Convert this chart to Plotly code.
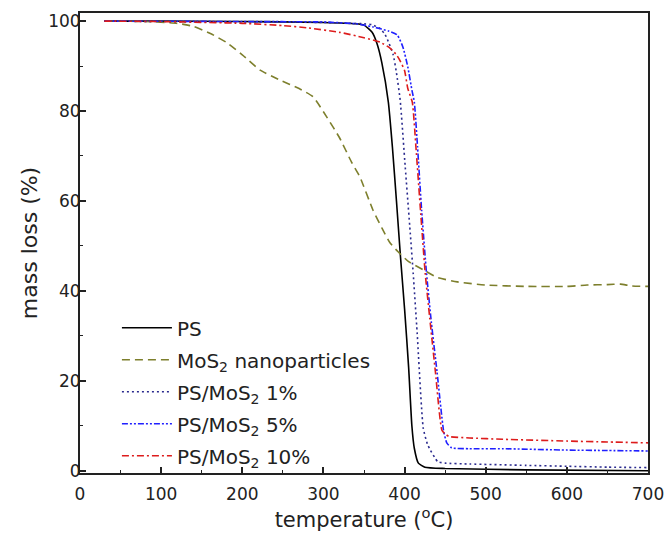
import plotly.graph_objects as go

# ---- data ----
ps_T = [30, 100, 200, 300, 340, 350, 360, 366, 372, 380, 385, 390, 395, 400, 405, 409, 412, 417, 425, 450, 550, 700]
ps_m = [100, 100, 99.9, 99.7, 99.4, 99.1, 97.5, 95, 90.7, 82, 72, 60, 47.5, 36, 23, 10, 5, 1.7, 0.8, 0.5, 0.2, 0.0]

mos_T = [30, 80, 120, 140, 160, 180, 200, 222, 246, 270, 287, 304, 320, 335, 345, 361, 372, 382, 392, 405, 423, 440, 465, 500, 550, 600, 625, 650, 666, 680, 700]
mos_m = [100, 99.9, 99.5, 98.8, 97.3, 95.3, 92.5, 89.1, 86.9, 85, 83.2, 78.7, 74, 68.5, 65.3, 58, 54, 50.7, 48.7, 46.5, 44.7, 43, 42, 41.3, 41, 41, 41.3, 41.4, 41.5, 41.1, 41]

p1_T = [30, 100, 200, 300, 350, 360, 370, 376, 381, 386, 390, 394.6, 400.8, 407, 410.6, 415.5, 423, 428, 432, 437, 441, 450, 480, 550, 600, 650, 700]
p1_m = [100, 99.9, 99.8, 99.7, 99.4, 99.2, 98.3, 97, 95, 92.5, 88.5, 82.4, 67.6, 52.9, 44, 30.7, 9.5, 6, 4.5, 3, 2, 1.7, 1.5, 1.2, 1.0, 0.8, 0.7]

p5_T = [30, 200, 300, 340, 361, 380, 391, 398, 404, 409, 412, 416, 421, 427, 433, 440, 448, 452, 458, 480, 521, 600, 650, 700]
p5_m = [100, 99.9, 99.8, 99.4, 98.7, 97.8, 96.9, 94.2, 89.8, 84.7, 82, 72, 58, 44, 33, 22, 9, 6.2, 5.1, 4.9, 4.9, 4.6, 4.5, 4.4]

p10_T = [30, 100, 200, 250, 280, 320, 350, 370, 382, 390, 395, 400, 404, 409.5, 414, 420, 425.4, 431, 438, 446, 450, 455, 480, 521, 600, 650, 700]
p10_m = [100, 99.9, 99.5, 99, 98.5, 97.5, 96.3, 95.3, 94, 92.5, 91, 89, 85, 82, 72, 57, 44, 34, 22, 9, 8.2, 7.6, 7.3, 7.0, 6.6, 6.4, 6.2]

names = ["PS", "MoS<sub>2</sub> nanoparticles", "PS/MoS<sub>2</sub> 1%",
         "PS/MoS<sub>2</sub> 5%", "PS/MoS<sub>2</sub> 10%"]

series = [
    (ps_T, ps_m, "#000000", "solid"),
    (mos_T, mos_m, "#7d7f2c", "8px,5px"),
    (p1_T, p1_m, "#2a2a8e", "2px,3px"),
    (p5_T, p5_m, "#2020ff", "6px,2px,2px,2px,2px,2px"),
    (p10_T, p10_m, "#dd1c1c", "7px,3px,2px,3px"),
]

fig = go.Figure()
for i, ((t, m, c, d), n) in enumerate(zip(series, names)):
    fig.add_trace(go.Scatter(x=t, y=m, mode="lines", name=n, legendgroup=f"g{i}",
                             line=dict(color=c, dash=d, width=1.6, shape="spline", smoothing=0.5)))

font = "DejaVu Sans, Verdana, sans-serif"
fig.update_layout(
    width=664, height=535,
    margin=dict(l=80, r=16, t=13, b=62),
    paper_bgcolor="white", plot_bgcolor="white",
    font=dict(family=font, color="#222", size=17),
    showlegend=True,
    legend=dict(x=0.065, y=0.358, xanchor="left", yanchor="top",
                bgcolor="rgba(0,0,0,0)", font=dict(size=20, family=font, color="#222"),
                tracegroupgap=3, itemwidth=50),
)
fig.update_xaxes(
    range=[0, 700], dtick=100, tick0=0, automargin=False,
    showline=True, linecolor="#222", linewidth=2, mirror=True,
    ticks="inside", ticklen=6, tickwidth=1.5, tickcolor="#222",
    minor=dict(dtick=50, ticks="inside", ticklen=3, tickwidth=1.2, tickcolor="#222"),
    showgrid=False, zeroline=False, ticklabelstandoff=5, ticklabeloverflow="allow",
    tickfont=dict(size=17, family=font),
    title=dict(text="temperature (<sup>o</sup>C)", font=dict(size=21, family=font), standoff=0),
)
fig.update_yaxes(
    range=[-0.5, 101.8], dtick=20, tick0=0, automargin=False,
    showline=True, linecolor="#222", linewidth=2, mirror=True,
    ticks="inside", ticklen=6, tickwidth=1.5, tickcolor="#222",
    minor=dict(dtick=10, ticks="inside", ticklen=3, tickwidth=1.2, tickcolor="#222"),
    showgrid=False, zeroline=False, ticklabelstandoff=-6, ticklabeloverflow="allow",
    tickfont=dict(size=17, family=font),
    title=dict(text="mass loss (%)", font=dict(size=22, family=font), standoff=4),
)

fig.write_html("out.html", config={"displayModeBar": False},
               post_script="document.body.style.margin='0';document.body.style.overflow='hidden';")
